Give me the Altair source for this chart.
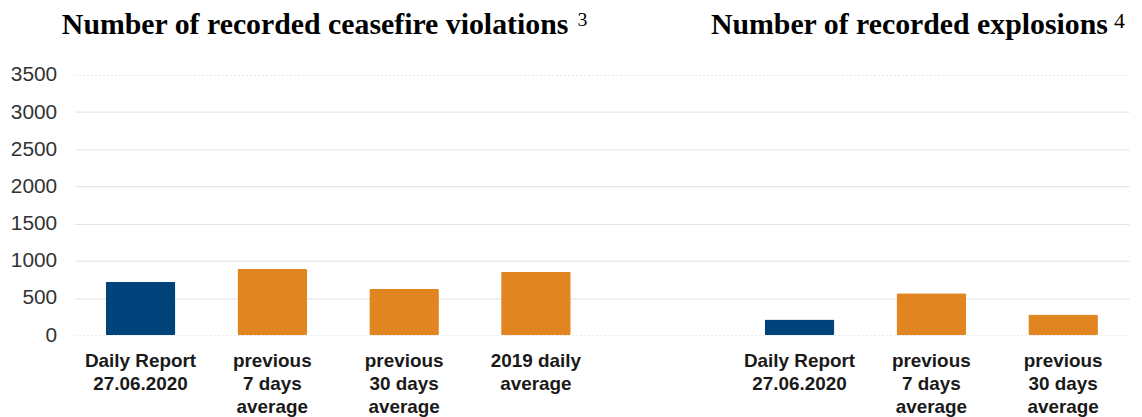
import altair as alt
import pandas as pd

# ---- data ----
ceasefire_labels = ["Daily Report|27.06.2020", "previous|7 days|average",
                    "previous|30 days|average", "2019 daily|average"]
ceasefire_values = [720, 889, 622, 853]
ceasefire_kinds = ["report", "average", "average", "average"]

explosion_labels = ["Daily Report|27.06.2020", "previous|7 days|average",
                    "previous|30 days|average"]
explosion_values = [213, 564, 280]
explosion_kinds = ["report", "average", "average"]

y_ticks = [0, 500, 1000, 1500, 2000, 2500, 3000, 3500]

title_left = "Number of recorded ceasefire violations"
note_left = "3"
title_right = "Number of recorded explosions"
note_right = "4"

# ---- build table ----
left_keys = [f"L{i}" for i in range(len(ceasefire_labels))]
right_keys = [f"R{i}" for i in range(len(explosion_labels))]
gap_key = "GAP"
domain = left_keys + [gap_key] + right_keys

df = pd.DataFrame({
    "slot": left_keys + right_keys,
    "value": ceasefire_values + explosion_values,
    "kind": ceasefire_kinds + explosion_kinds,
})

label_map = {k: l.split("|") for k, l in zip(left_keys, ceasefire_labels)}
label_map.update({k: l.split("|") for k, l in zip(right_keys, explosion_labels)})
label_map[gap_key] = [""]


def js_arr(lines):
    return "[" + ", ".join("'" + s + "'" for s in lines) + "]"


label_expr = "{" + ", ".join(f"'{k}': {js_arr(v)}" for k, v in label_map.items()) + "}[datum.value]"

bars = alt.Chart(df).mark_bar(cornerRadius=1.5).encode(
    x=alt.X("slot:N", sort=domain,
            scale=alt.Scale(domain=domain, paddingInner=0.472, paddingOuter=0.236),
            axis=alt.Axis(title=None, labelAngle=0, ticks=False, domain=False, grid=False,
                          labelExpr=label_expr, labelFont="Liberation Sans",
                          labelFontSize=19, labelFontWeight="bold", labelColor="#1a1a1a",
                          labelLineHeight=23.5, labelPadding=16, labelBaseline="top")),
    y=alt.Y("value:Q", scale=alt.Scale(domain=[0, 3500], nice=False),
            axis=alt.Axis(title=None, values=y_ticks, format="d", ticks=False, domain=False,
                          labelFont="Liberation Sans", labelFontSize=21, labelColor="#333333",
                          labelPadding=18, gridColor="#e2e2e2", gridWidth=1,
                          gridDash=alt.condition("datum.value == 0 || datum.value == 3500",
                                                 alt.value([2, 2]), alt.value([])))),
    color=alt.Color("kind:N", scale=alt.Scale(domain=["report", "average"],
                                              range=["#00427a", "#e0851f"]), legend=None),
)

tdf_l = pd.DataFrame({"t": [title_left]})
tdf_r = pd.DataFrame({"t": [title_right]})
ndf_l = pd.DataFrame({"t": [note_left]})
ndf_r = pd.DataFrame({"t": [note_right]})

t1 = alt.Chart(tdf_l).mark_text(x=242, y=-41, align="center", baseline="alphabetic",
                                font="Liberation Serif", fontSize=30, fontWeight="bold",
                                color="#000000").encode(text="t:N")
s1 = alt.Chart(ndf_l).mark_text(x=506, y=-49, align="left", baseline="alphabetic",
                                font="Liberation Serif", fontSize=20,
                                color="#000000").encode(text="t:N")
t2 = alt.Chart(tdf_r).mark_text(x=840, y=-41, align="center", baseline="alphabetic",
                                font="Liberation Serif", fontSize=30, fontWeight="bold",
                                color="#000000").encode(text="t:N")
s2 = alt.Chart(ndf_r).mark_text(x=1046, y=-47, align="left", baseline="alphabetic",
                                font="Liberation Serif", fontSize=22,
                                color="#000000").encode(text="t:N")

chart = alt.layer(bars, t1, s1, t2, s2).properties(
    width=1061, height=262,
    autosize=alt.AutoSizeParams(type="none"),
    padding={"left": 67, "top": 66, "right": 5, "bottom": 81},
).configure_view(stroke=None)

chart.save("out.html", embed_options={"renderer": "svg", "actions": False})
